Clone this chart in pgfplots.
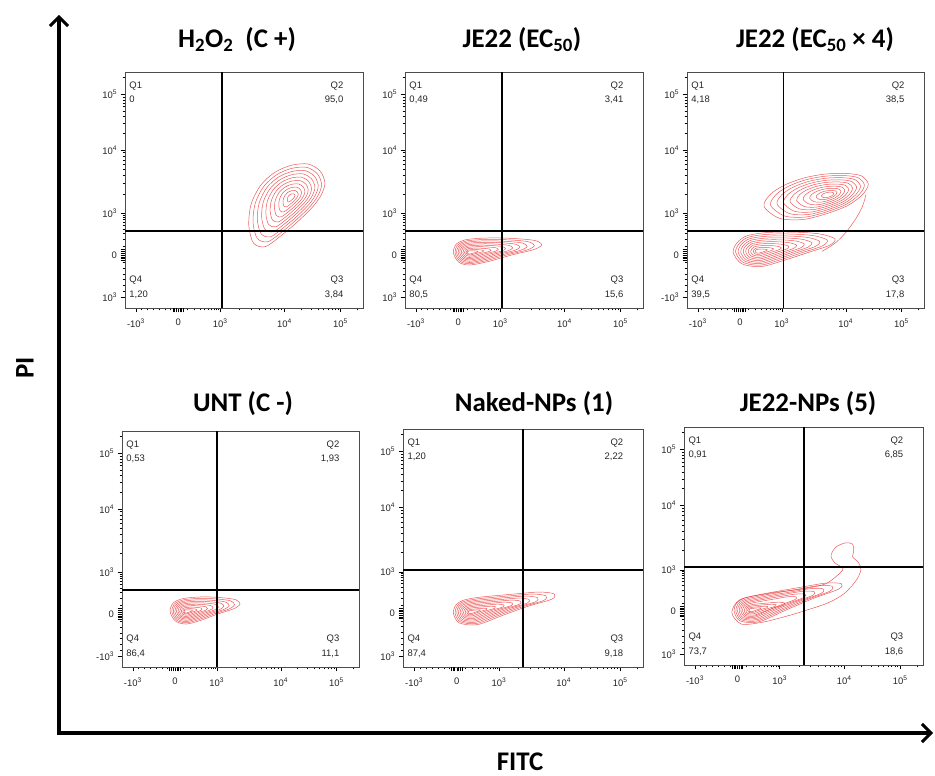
\documentclass[border=0pt]{standalone}
\usepackage{fontspec}
\setmainfont{Liberation Sans}
\newfontfamily\titlefont{Carlito}
\usepackage{pgfplots}
\pgfplotsset{compat=1.18}
\usetikzlibrary{arrows.meta}
\definecolor{flow}{RGB}{232,48,48}

\newcommand{\ssup}[1]{\textsuperscript{#1}}
\pgfplotsset{
  facs/.style={
    scale only axis, xmin=0, xmax=100, ymin=0, ymax=100,
    axis line style={black!70, line width=0.6pt},
    xtick={4.6,22.4,40,67,90.5}, ytick={4.6,22.4,40,67,90.5},
    minor xtick={7,9.5,12,14.5,17,19.2,26,29,31.5,33.5,35,36.3,37.5,38.5,39.3,48.1,52.9,56.3,58.9,61,62.8,64.4,65.8,74.1,78.2,81.1,83.4,85.3,86.9,88.2,89.4,97.6},
    minor ytick={7,9.5,12,14.5,17,19.2,26,29,31.5,33.5,35,36.3,37.5,38.5,39.3,48.1,52.9,56.3,58.9,61,62.8,64.4,65.8,74.1,78.2,81.1,83.4,85.3,86.9,88.2,89.4,97.6},
    extra x ticks={20.2,20.9,21.6,23.2,23.9,24.6}, extra y ticks={20.2,20.9,21.6,23.2,23.9,24.6},
    extra x tick labels={}, extra y tick labels={},
    extra tick style={major tick length=4.5bp, every major tick/.style={black, line width=0.9pt}},
    tick align=outside, xtick pos=bottom, ytick pos=left,
    major tick length=4.5bp, minor tick length=2.5bp,
    every tick/.style={black, line width=0.5pt},
    tick label style={font=\fontsize{9.5}{10}\selectfont, black!85},
    xticklabel style={yshift=-3bp},
    xticklabels={-10\ssup{3},0,10\ssup{3},10\ssup{4},10\ssup{5}},
    clip=true,
  },
  cont/.style={flow, opacity=0.8, line width=0.5pt, smooth cycle},
  gate/.style={black, line width=1.3pt},
}
\newcommand{\quads}[4]{%
  \node[anchor=north west, align=left, inner sep=0pt, font=\fontsize{9.5}{14.5}\selectfont, black!85] at (axis cs:1.8,96) {Q1\\#1};
  \node[anchor=north east, align=right, inner sep=0pt, font=\fontsize{9.5}{14.5}\selectfont, black!85] at (axis cs:91.8,96) {Q2\\#2};
  \node[anchor=south west, align=left, inner sep=0pt, font=\fontsize{9.5}{14.5}\selectfont, black!85] at (axis cs:1.8,4) {Q4\\#4};
  \node[anchor=south east, align=right, inner sep=0pt, font=\fontsize{9.5}{14.5}\selectfont, black!85] at (axis cs:91.8,4) {Q3\\#3};
}

\begin{document}
\begin{tikzpicture}[x=1bp, y=1bp]
\path[use as bounding box] (0,0) rectangle (935,776);

% ---------- H2O2 (C +)
\begin{axis}[facs, at={(125bp,468bp)}, anchor=south west, width=238bp, height=236bp,
  yticklabels={10\ssup{3},0,10\ssup{3},10\ssup{4},10\ssup{5}}]
\addplot[cont] coordinates {(84,53)(82,58)(77,61)(70,60.5)(63,57.5)(57,52)(53,44)(52,35)(54,27.5)(59,26)(66,31)(73,37)(79,43)(82.5,48)};
\addplot[cont] coordinates {(82.6,52.4)(80.8,56.9)(76.3,59.6)(70,59.15)(63.7,56.45)(58.3,51.5)(54.7,44.3)(53.8,36.2)(55.6,29.45)(60.1,28.1)(66.4,32.6)(72.7,38)(78.1,43.4)(81.25,47.9)};
\addplot[cont] coordinates {(81.2,51.8)(79.6,55.8)(75.6,58.2)(70,57.8)(64.4,55.4)(59.6,51)(56.4,44.6)(55.6,37.4)(57.2,31.4)(61.2,30.2)(66.8,34.2)(72.4,39)(77.2,43.8)(80,47.8)};
\addplot[cont] coordinates {(79.8,51.2)(78.4,54.7)(74.9,56.8)(70,56.45)(65.1,54.35)(60.9,50.5)(58.1,44.9)(57.4,38.6)(58.8,33.35)(62.3,32.3)(67.2,35.8)(72.1,40)(76.3,44.2)(78.75,47.7)};
\addplot[cont] coordinates {(78.4,50.6)(77.2,53.6)(74.2,55.4)(70,55.1)(65.8,53.3)(62.2,50)(59.8,45.2)(59.2,39.8)(60.4,35.3)(63.4,34.4)(67.6,37.4)(71.8,41)(75.4,44.6)(77.5,47.6)};
\addplot[cont] coordinates {(77,50)(76,52.5)(73.5,54)(70,53.75)(66.5,52.25)(63.5,49.5)(61.5,45.5)(61,41)(62,37.25)(64.5,36.5)(68,39)(71.5,42)(74.5,45)(76.25,47.5)};
\addplot[cont] coordinates {(75.6,49.4)(74.8,51.4)(72.8,52.6)(70,52.4)(67.2,51.2)(64.8,49)(63.2,45.8)(62.8,42.2)(63.6,39.2)(65.6,38.6)(68.4,40.6)(71.2,43)(73.6,45.4)(75,47.4)};
\addplot[cont] coordinates {(74.2,48.8)(73.6,50.3)(72.1,51.2)(70,51.05)(67.9,50.15)(66.1,48.5)(64.9,46.1)(64.6,43.4)(65.2,41.15)(66.7,40.7)(68.8,42.2)(70.9,44)(72.7,45.8)(73.75,47.3)};
\addplot[cont] coordinates {(72.8,48.2)(72.4,49.2)(71.4,49.8)(70,49.7)(68.6,49.1)(67.4,48)(66.6,46.4)(66.4,44.6)(66.8,43.1)(67.8,42.8)(69.2,43.8)(70.6,45)(71.8,46.2)(72.5,47.2)};
\addplot[cont] coordinates {(71.4,47.6)(71.2,48.1)(70.7,48.4)(70,48.35)(69.3,48.05)(68.7,47.5)(68.3,46.7)(68.2,45.8)(68.4,45.05)(68.9,44.9)(69.6,45.4)(70.3,46)(70.9,46.6)(71.25,47.1)};
\addplot[gate] coordinates {(40.8,0)(40.8,100)};
\addplot[gate] coordinates {(0,32.6)(100,32.6)};
\quads{0}{95,0}{3,84}{1,20}
\end{axis}

% ---------- JE22 (EC50)
\begin{axis}[facs, at={(405bp,468bp)}, anchor=south west, width=238bp, height=236bp,
  yticklabels={10\ssup{3},0,10\ssup{3},10\ssup{4},10\ssup{5}}]
\addplot[cont] coordinates {(20.3,23.5)(21.5,27)(25,28.8)(31,29.5)(39,29.7)(48,29.3)(55,28.5)(57.4,26.7)(54,24.7)(45,22.5)(35,19.7)(27,18.2)(22.5,19.5)};
\addplot[cont] coordinates {(21,23.5)(22.05,26.65)(25.2,28.27)(30.6,28.9)(37.8,29.08)(45.9,28.72)(52.2,28)(54.36,26.38)(51.3,24.58)(43.2,22.6)(34.2,20.08)(27,18.73)(22.95,19.9)};
\addplot[cont] coordinates {(21.64,23.5)(22.6,26.3)(25.4,27.74)(30.2,28.3)(36.6,28.46)(43.8,28.14)(49.4,27.5)(51.32,26.06)(48.6,24.46)(41.4,22.7)(33.4,20.46)(27,19.26)(23.4,20.3)};
\addplot[cont] coordinates {(22.31,23.5)(23.15,25.95)(25.6,27.21)(29.8,27.7)(35.4,27.84)(41.7,27.56)(46.6,27)(48.28,25.74)(45.9,24.34)(39.6,22.8)(32.6,20.84)(27,19.79)(23.85,20.7)};
\addplot[cont] coordinates {(22.98,23.5)(23.7,25.6)(25.8,26.68)(29.4,27.1)(34.2,27.22)(39.6,26.98)(43.8,26.5)(45.24,25.42)(43.2,24.22)(37.8,22.9)(31.8,21.22)(27,20.32)(24.3,21.1)};
\addplot[cont] coordinates {(23.65,23.5)(24.25,25.25)(26,26.15)(29,26.5)(33,26.6)(37.5,26.4)(41,26)(42.2,25.1)(40.5,24.1)(36,23)(31,21.6)(27,20.85)(24.75,21.5)};
\addplot[cont] coordinates {(24.32,23.5)(24.8,24.9)(26.2,25.62)(28.6,25.9)(31.8,25.98)(35.4,25.82)(38.2,25.5)(39.16,24.78)(37.8,23.98)(34.2,23.1)(30.2,21.98)(27,21.38)(25.2,21.9)};
\addplot[cont] coordinates {(24.99,23.5)(25.35,24.55)(26.4,25.09)(28.2,25.3)(30.6,25.36)(33.3,25.24)(35.4,25)(36.12,24.46)(35.1,23.86)(32.4,23.2)(29.4,22.36)(27,21.91)(25.65,22.3)};
\addplot[cont] coordinates {(25.66,23.5)(25.9,24.2)(26.6,24.56)(27.8,24.7)(29.4,24.74)(31.2,24.66)(32.6,24.5)(33.08,24.14)(32.4,23.74)(30.6,23.3)(28.6,22.74)(27,22.44)(26.1,22.7)};
\addplot[cont] coordinates {(26.2,23.5)(26.34,23.92)(26.76,24.14)(27.48,24.22)(28.44,24.24)(29.52,24.2)(30.36,24.1)(30.65,23.88)(30.24,23.64)(29.16,23.38)(27.96,23.04)(27,22.86)(26.46,23.02)};
\addplot[gate] coordinates {(40.8,0)(40.8,100)};
\addplot[gate] coordinates {(0,32.6)(100,32.6)};
\quads{0,49}{3,41}{15,6}{80,5}
\end{axis}

% ---------- JE22 (EC50 x 4)
\begin{axis}[facs, at={(687bp,468bp)}, anchor=south west, width=237bp, height=236bp,
  yticklabels={-10\ssup{3},0,10\ssup{3},10\ssup{4},10\ssup{5}}]
% upper population
\addplot[cont] coordinates {(32.5,43)(35,48)(41,52)(49,55)(58,56.7)(67,57)(73.5,56)(76.5,52.5)(74,48)(68,43.5)(59,40)(49,37.5)(39,38)};
\addplot[cont] coordinates {(35.25,43.5)(37.5,48)(42.9,51.6)(50.1,54.3)(58.2,55.83)(66.3,56.1)(72.15,55.2)(74.85,52.05)(72.6,48)(67.2,43.95)(59.1,40.8)(50.1,38.55)(41.1,39)};
\addplot[cont] coordinates {(38,44)(40,48)(44.8,51.2)(51.2,53.6)(58.4,54.96)(65.6,55.2)(70.8,54.4)(73.2,51.6)(71.2,48)(66.4,44.4)(59.2,41.6)(51.2,39.6)(43.2,40)};
\addplot[cont] coordinates {(40.75,44.5)(42.5,48)(46.7,50.8)(52.3,52.9)(58.6,54.09)(64.9,54.3)(69.45,53.6)(71.55,51.15)(69.8,48)(65.6,44.85)(59.3,42.4)(52.3,40.65)(45.3,41)};
\addplot[cont] coordinates {(43.5,45)(45,48)(48.6,50.4)(53.4,52.2)(58.8,53.22)(64.2,53.4)(68.1,52.8)(69.9,50.7)(68.4,48)(64.8,45.3)(59.4,43.2)(53.4,41.7)(47.4,42)};
\addplot[cont] coordinates {(46.25,45.5)(47.5,48)(50.5,50)(54.5,51.5)(59,52.35)(63.5,52.5)(66.75,52)(68.25,50.25)(67,48)(64,45.75)(59.5,44)(54.5,42.75)(49.5,43)};
\addplot[cont] coordinates {(49,46)(50,48)(52.4,49.6)(55.6,50.8)(59.2,51.48)(62.8,51.6)(65.4,51.2)(66.6,49.8)(65.6,48)(63.2,46.2)(59.6,44.8)(55.6,43.8)(51.6,44)};
\addplot[cont] coordinates {(51.75,46.5)(52.5,48)(54.3,49.2)(56.7,50.1)(59.4,50.61)(62.1,50.7)(64.05,50.4)(64.95,49.35)(64.2,48)(62.4,46.65)(59.7,45.6)(56.7,44.85)(53.7,45)};
\addplot[cont] coordinates {(54.5,47)(55,48)(56.2,48.8)(57.8,49.4)(59.6,49.74)(61.4,49.8)(62.7,49.6)(63.3,48.9)(62.8,48)(61.6,47.1)(59.8,46.4)(57.8,45.9)(55.8,46)};
\addplot[cont] coordinates {(56.7,47.4)(57,48)(57.72,48.48)(58.68,48.84)(59.76,49.04)(60.84,49.08)(61.62,48.96)(61.98,48.54)(61.68,48)(60.96,47.46)(59.88,47.04)(58.68,46.74)(57.48,46.8)};
% lower population
\addplot[cont] coordinates {(19.5,23.5)(21,27.5)(25,30.5)(32,31.8)(40,32.2)(49,32)(57,31.2)(62.5,29.2)(60,26.5)(51,23.5)(41,20.2)(31,17.5)(23,18.8)};
\addplot[cont] coordinates {(20.55,23.55)(21.9,27.15)(25.5,29.85)(31.8,31.02)(39,31.38)(47.1,31.2)(54.3,30.48)(59.25,28.68)(57,26.25)(48.9,23.55)(39.9,20.58)(30.9,18.15)(23.7,19.32)};
\addplot[cont] coordinates {(21.6,23.6)(22.8,26.8)(26,29.2)(31.6,30.24)(38,30.56)(45.2,30.4)(51.6,29.76)(56,28.16)(54,26)(46.8,23.6)(38.8,20.96)(30.8,18.8)(24.4,19.84)};
\addplot[cont] coordinates {(22.65,23.65)(23.7,26.45)(26.5,28.55)(31.4,29.46)(37,29.74)(43.3,29.6)(48.9,29.04)(52.75,27.64)(51,25.75)(44.7,23.65)(37.7,21.34)(30.7,19.45)(25.1,20.36)};
\addplot[cont] coordinates {(23.7,23.7)(24.6,26.1)(27,27.9)(31.2,28.68)(36,28.92)(41.4,28.8)(46.2,28.32)(49.5,27.12)(48,25.5)(42.6,23.7)(36.6,21.72)(30.6,20.1)(25.8,20.88)};
\addplot[cont] coordinates {(24.75,23.75)(25.5,25.75)(27.5,27.25)(31,27.9)(35,28.1)(39.5,28)(43.5,27.6)(46.25,26.6)(45,25.25)(40.5,23.75)(35.5,22.1)(30.5,20.75)(26.5,21.4)};
\addplot[cont] coordinates {(25.8,23.8)(26.4,25.4)(28,26.6)(30.8,27.12)(34,27.28)(37.6,27.2)(40.8,26.88)(43,26.08)(42,25)(38.4,23.8)(34.4,22.48)(30.4,21.4)(27.2,21.92)};
\addplot[cont] coordinates {(26.85,23.85)(27.3,25.05)(28.5,25.95)(30.6,26.34)(33,26.46)(35.7,26.4)(38.1,26.16)(39.75,25.56)(39,24.75)(36.3,23.85)(33.3,22.86)(30.3,22.05)(27.9,22.44)};
\addplot[cont] coordinates {(27.9,23.9)(28.2,24.7)(29,25.3)(30.4,25.56)(32,25.64)(33.8,25.6)(35.4,25.44)(36.5,25.04)(36,24.5)(34.2,23.9)(32.2,23.24)(30.2,22.7)(28.6,22.96)};
\addplot[cont] coordinates {(28.74,23.94)(28.92,24.42)(29.4,24.78)(30.24,24.94)(31.2,24.98)(32.28,24.96)(33.24,24.86)(33.9,24.62)(33.6,24.3)(32.52,23.94)(31.32,23.54)(30.12,23.22)(29.16,23.38)};
\addplot[flow, opacity=0.8, line width=0.5pt, smooth] coordinates {(75.5,48)(74,43)(71,37.5)(67,32)(62.5,27.5)(57,24)};
\addplot[gate] coordinates {(40.8,0)(40.8,100)};
\addplot[gate] coordinates {(0,32.6)(100,32.6)};
\quads{4,18}{38,5}{17,8}{39,5}
\end{axis}

% ---------- UNT (C -)
\begin{axis}[facs, at={(122bp,109bp)}, anchor=south west, width=237bp, height=236bp,
  yticklabels={-10\ssup{3},0,10\ssup{3},10\ssup{4},10\ssup{5}}]
\addplot[cont] coordinates {(20.3,23.5)(21.5,27)(25,28.8)(30,29.5)(36,29.7)(42.75,29.3)(48,28.5)(49.8,26.7)(47.25,24.7)(40.5,22.5)(33,19.7)(27,18.2)(22.5,19.5)};
\addplot[cont] coordinates {(21,23.5)(22.05,26.65)(25.2,28.27)(29.7,28.9)(35.1,29.08)(41.2,28.72)(45.9,28)(47.5,26.38)(45.2,24.58)(39.15,22.6)(32.4,20.08)(27,18.73)(22.95,19.9)};
\addplot[cont] coordinates {(21.64,23.5)(22.6,26.3)(25.4,27.74)(29.4,28.3)(34.2,28.46)(39.6,28.14)(43.8,27.5)(45.24,26.06)(43.2,24.46)(37.8,22.7)(31.8,20.46)(27,19.26)(23.4,20.3)};
\addplot[cont] coordinates {(22.31,23.5)(23.15,25.95)(25.6,27.21)(29.1,27.7)(33.3,27.84)(38,27.56)(41.7,27)(43,25.74)(41.2,24.34)(36.45,22.8)(31.2,20.84)(27,19.79)(23.85,20.7)};
\addplot[cont] coordinates {(22.98,23.5)(23.7,25.6)(25.8,26.68)(28.8,27.1)(32.4,27.22)(36.45,26.98)(39.6,26.5)(40.7,25.42)(39.15,24.22)(35.1,22.9)(30.6,21.22)(27,20.32)(24.3,21.1)};
\addplot[cont] coordinates {(23.65,23.5)(24.25,25.25)(26,26.15)(28.5,26.5)(31.5,26.6)(34.9,26.4)(37.5,26)(38.4,25.1)(37.1,24.1)(33.75,23)(30,21.6)(27,20.85)(24.75,21.5)};
\addplot[cont] coordinates {(24.32,23.5)(24.8,24.9)(26.2,25.62)(28.2,25.9)(30.6,25.98)(33.3,25.82)(35.4,25.5)(36.1,24.78)(35.1,23.98)(32.4,23.1)(29.4,21.98)(27,21.38)(25.2,21.9)};
\addplot[cont] coordinates {(24.99,23.5)(25.35,24.55)(26.4,25.09)(27.9,25.3)(29.7,25.36)(31.7,25.24)(33.3,25)(33.8,24.46)(33.1,23.86)(31.05,23.2)(28.8,22.36)(27,21.91)(25.65,22.3)};
\addplot[cont] coordinates {(25.66,23.5)(25.9,24.2)(26.6,24.56)(27.6,24.7)(28.8,24.74)(30.15,24.66)(31.2,24.5)(31.6,24.14)(31.05,23.74)(29.7,23.3)(28.2,22.74)(27,22.44)(26.1,22.7)};
\addplot[cont] coordinates {(26.2,23.5)(26.34,23.92)(26.76,24.14)(27.36,24.22)(28.08,24.24)(28.9,24.2)(29.5,24.1)(29.7,23.88)(29.4,23.64)(28.6,23.38)(27.7,23.04)(27,22.86)(26.46,23.02)};
\addplot[gate] coordinates {(40.1,0)(40.1,100)};
\addplot[gate] coordinates {(0,32.6)(100,32.6)};
\quads{0,53}{1,93}{11,1}{86,4}
\end{axis}

% ---------- Naked-NPs (1)
\begin{axis}[facs, at={(403bp,109bp)}, anchor=south west, width=240bp, height=238bp,
  yticklabels={10\ssup{3},0,10\ssup{3},10\ssup{4},10\ssup{5}}]
\addplot[cont] coordinates {(21,22.5)(22,26)(25,28)(31,29.2)(39,30)(48,30.8)(57,31.5)(63,30.7)(62,28.5)(52,25.5)(41,21.5)(31,17.8)(23.5,18.5)};
\addplot[cont] coordinates {(21.7,22.55)(22.6,25.7)(25.3,27.5)(30.7,28.58)(37.9,29.3)(46,30.02)(54.1,30.65)(59.5,29.93)(58.6,27.95)(49.6,25.25)(39.7,21.65)(30.7,18.32)(23.95,18.95)};
\addplot[cont] coordinates {(22.4,22.6)(23.2,25.4)(25.6,27)(30.4,27.96)(36.8,28.6)(44,29.24)(51.2,29.8)(56,29.16)(55.2,27.4)(47.2,25)(38.4,21.8)(30.4,18.84)(24.4,19.4)};
\addplot[cont] coordinates {(23.1,22.65)(23.8,25.1)(25.9,26.5)(30.1,27.34)(35.7,27.9)(42,28.46)(48.3,28.95)(52.5,28.39)(51.8,26.85)(44.8,24.75)(37.1,21.95)(30.1,19.36)(24.85,19.85)};
\addplot[cont] coordinates {(23.8,22.7)(24.4,24.8)(26.2,26)(29.8,26.72)(34.6,27.2)(40,27.68)(45.4,28.1)(49,27.62)(48.4,26.3)(42.4,24.5)(35.8,22.1)(29.8,19.88)(25.3,20.3)};
\addplot[cont] coordinates {(24.5,22.75)(25,24.5)(26.5,25.5)(29.5,26.1)(33.5,26.5)(38,26.9)(42.5,27.25)(45.5,26.85)(45,25.75)(40,24.25)(34.5,22.25)(29.5,20.4)(25.75,20.75)};
\addplot[cont] coordinates {(25.2,22.8)(25.6,24.2)(26.8,25)(29.2,25.48)(32.4,25.8)(36,26.12)(39.6,26.4)(42,26.08)(41.6,25.2)(37.6,24)(33.2,22.4)(29.2,20.92)(26.2,21.2)};
\addplot[cont] coordinates {(25.9,22.85)(26.2,23.9)(27.1,24.5)(28.9,24.86)(31.3,25.1)(34,25.34)(36.7,25.55)(38.5,25.31)(38.2,24.65)(35.2,23.75)(31.9,22.55)(28.9,21.44)(26.65,21.65)};
\addplot[cont] coordinates {(26.6,22.9)(26.8,23.6)(27.4,24)(28.6,24.24)(30.2,24.4)(32,24.56)(33.8,24.7)(35,24.54)(34.8,24.1)(32.8,23.5)(30.6,22.7)(28.6,21.96)(27.1,22.1)};
\addplot[cont] coordinates {(27.16,22.94)(27.28,23.36)(27.64,23.6)(28.36,23.74)(29.32,23.84)(30.4,23.94)(31.48,24.02)(32.2,23.92)(32.08,23.66)(30.88,23.3)(29.56,22.82)(28.36,22.38)(27.46,22.46)};
\addplot[gate] coordinates {(50,0)(50,100)};
\addplot[gate] coordinates {(0,40.8)(100,40.8)};
\quads{1,20}{2,22}{9,18}{87,4}
\end{axis}

% ---------- JE22-NPs (5)
\begin{axis}[facs, at={(684bp,111bp)}, anchor=south west, width=239bp, height=238bp,
  yticklabels={10\ssup{3},0,10\ssup{3},10\ssup{4},10\ssup{5}}]
\addplot[cont] coordinates {(20,22)(23.5,27.5)(35,30)(42,31)(50,32)(59,34)(64,37.5)(66.5,40.5)(63,43)(61.5,46)(63.5,49.5)(67.5,51.3)(70.5,50.8)(71,47.5)(70.5,45.5)(73,43)(74,40)(72,35.5)(67,30)(60,26)(48,22)(41,20)(33,18)(24,17.2)};
\addplot[cont] coordinates {(21,22.5)(22,26)(25,28)(31.2,29.5)(39.9,31.1)(49.6,32.8)(59.3,34.4)(65.8,34.2)(64.7,31.9)(53.9,27.9)(42,22.8)(31.2,18.1)(23.5,18.5)};
\addplot[cont] coordinates {(21.7,22.55)(22.6,25.7)(25.3,27.5)(30.9,28.85)(38.7,30.3)(47.4,31.8)(56.2,33.3)(62,33.1)(61,31)(51.3,27.4)(40.6,22.8)(30.9,18.6)(23.95,18.95)};
\addplot[cont] coordinates {(22.4,22.6)(23.2,25.4)(25.6,27)(30.6,28.2)(37.5,29.5)(45.3,30.8)(53.1,32.1)(58.2,32)(57.4,30.1)(48.7,26.9)(39.2,22.8)(30.6,19.1)(24.4,19.4)};
\addplot[cont] coordinates {(23.1,22.65)(23.8,25.1)(25.9,26.5)(30.3,27.55)(36.3,28.7)(43.1,29.9)(49.9,31)(54.5,30.8)(53.7,29.2)(46.1,26.4)(37.8,22.9)(30.3,19.6)(24.85,19.85)};
\addplot[cont] coordinates {(23.8,22.7)(24.4,24.8)(26.2,26)(29.9,26.9)(35.1,27.9)(41,28.9)(46.8,29.8)(50.7,29.7)(50,28.3)(43.6,25.9)(36.4,22.9)(29.9,20.1)(25.3,20.3)};
\addplot[cont] coordinates {(24.5,22.75)(25,24.5)(26.5,25.5)(29.6,26.25)(33.9,27.05)(38.8,27.9)(43.7,28.7)(46.9,28.6)(46.4,27.45)(41,25.45)(35,22.9)(29.6,20.55)(25.75,20.75)};
\addplot[cont] coordinates {(25.2,22.8)(25.6,24.2)(26.8,25)(29.2,25.48)(32.4,25.8)(36,26.12)(39.6,26.4)(42,26.08)(41.6,25.2)(37.6,24)(33.2,22.4)(29.2,20.92)(26.2,21.2)};
\addplot[cont] coordinates {(25.9,22.85)(26.2,23.9)(27.1,24.5)(28.9,24.86)(31.3,25.1)(34,25.34)(36.7,25.55)(38.5,25.31)(38.2,24.65)(35.2,23.75)(31.9,22.55)(28.9,21.44)(26.65,21.65)};
\addplot[cont] coordinates {(26.6,22.9)(26.8,23.6)(27.4,24)(28.6,24.24)(30.2,24.4)(32,24.56)(33.8,24.7)(35,24.54)(34.8,24.1)(32.8,23.5)(30.6,22.7)(28.6,21.96)(27.1,22.1)};
\addplot[cont] coordinates {(27.16,22.94)(27.28,23.36)(27.64,23.6)(28.36,23.74)(29.32,23.84)(30.4,23.94)(31.48,24.02)(32.2,23.92)(32.08,23.66)(30.88,23.3)(29.56,22.82)(28.36,22.38)(27.46,22.46)};
\addplot[gate] coordinates {(50.2,0)(50.2,100)};
\addplot[gate] coordinates {(0,41.2)(100,41.2)};
\quads{0,91}{6,85}{18,6}{73,7}
\end{axis}

% ---------- titles
\begin{scope}[every node/.style={font=\titlefont\bfseries\fontsize{27}{31}\selectfont, anchor=base}]
\node at (237,728) {H\textsubscript{2}O\textsubscript{2}\ \ (C +)};
\node at (522,728) {JE22 (EC\textsubscript{50})};
\node at (815,728) {JE22 (EC\textsubscript{50} × 4)};
\node at (243,364) {UNT (C -)};
\node at (534,364) {Naked-NPs (1)};
\node at (808,364) {JE22-NPs (5)};
\end{scope}

% ---------- global axes
\draw[line width=4bp, -{Straight Barb[length=9bp, width=18bp, line width=3bp]}] (59,43) -- (59,761);
\draw[line width=4bp, -{Straight Barb[length=9bp, width=18bp, line width=3bp]}] (57,43) -- (933,43);
\node[rotate=90, font=\titlefont\bfseries\fontsize{27}{31}\selectfont] at (25,408) {PI};
\node[inner sep=1pt, font=\titlefont\bfseries\fontsize{27}{31}\selectfont] at (520,14) {FITC};
\end{tikzpicture}
\end{document}
